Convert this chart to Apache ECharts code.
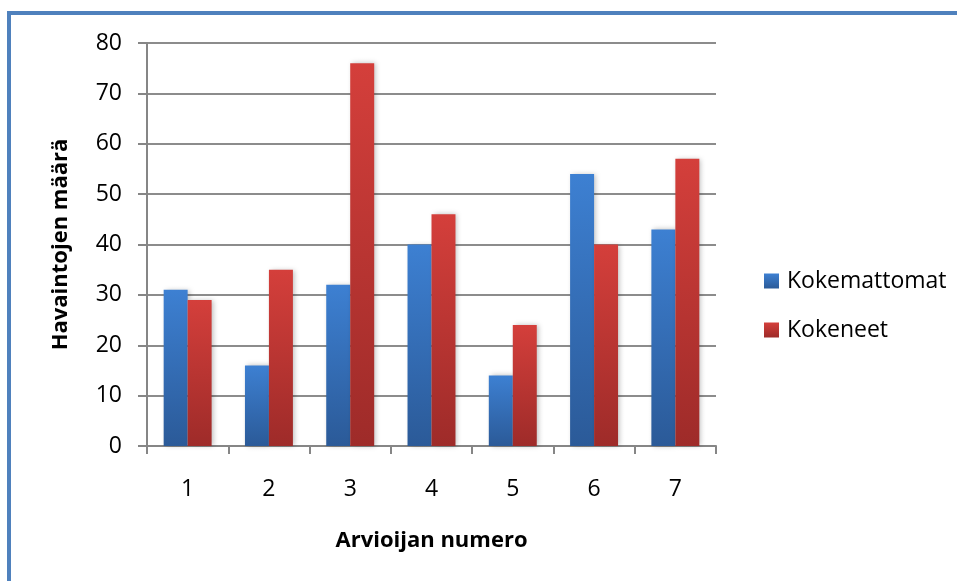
<!DOCTYPE html>
<html>
<head>
<meta charset="utf-8">
<script src="https://cdn.jsdelivr.net/npm/echarts@6/dist/echarts.min.js"></script>
<style>
  html, body { margin: 0; padding: 0; background: #fff; }
  #chart { width: 957px; height: 581px; }
</style>
</head>
<body>
<div id="chart"></div>
<script>
// Arvioijat 1–7 ja havaintojen määrä ryhmittäin
const categories = ['1', '2', '3', '4', '5', '6', '7'];
const kokemattomat = [31, 16, 32, 40, 14, 54, 43];
const kokeneet = [29, 35, 76, 46, 24, 40, 57];
const seriesNames = ['Kokemattomat', 'Kokeneet'];

const FONT = '"Open Sans", "Liberation Sans", sans-serif';
const grid = { left: 147, right: 241, top: 43, bottom: 135 };

function vgrad(top, bottom) {
  return new echarts.graphic.LinearGradient(0, 0, 0, 1, [
    { offset: 0, color: top },
    { offset: 1, color: bottom }
  ]);
}

const chart = echarts.init(document.getElementById('chart'), null, { renderer: 'canvas' });
chart.setOption({
  animation: false,
  backgroundColor: '#ffffff',
  graphic: [{
    type: 'rect',
    shape: { x: 9, y: 13, width: 1000, height: 700 },
    style: { fill: 'none', stroke: '#4F81BD', lineWidth: 4 },
    silent: true
  }],
  grid: grid,
  legend: {
    orient: 'vertical',
    left: 759,
    top: 264,
    itemWidth: 15,
    itemHeight: 15,
    itemGap: 25,
    icon: 'rect',
    textStyle: { fontFamily: FONT, fontSize: 23, lineHeight: 24, color: '#000', padding: [0, 0, 0, 3] },
    data: seriesNames
  },
  xAxis: {
    type: 'category',
    data: categories,
    name: 'Arvioijan numero',
    nameLocation: 'middle',
    nameGap: 84,
    nameTextStyle: { fontFamily: FONT, fontSize: 22, fontWeight: 'bold', color: '#000' },
    axisLine: { lineStyle: { color: '#868686', width: 2 } },
    axisTick: { show: true, length: 8, lineStyle: { color: '#868686', width: 2 } },
    axisLabel: { fontFamily: FONT, fontSize: 23, color: '#000', margin: 32 }
  },
  yAxis: {
    type: 'value',
    min: 0,
    max: 80,
    interval: 10,
    name: 'Havaintojen määrä',
    nameLocation: 'middle',
    nameGap: 75,
    nameRotate: 90,
    nameTextStyle: { fontFamily: FONT, fontSize: 22, fontWeight: 'bold', color: '#000' },
    axisLine: { show: true, lineStyle: { color: '#868686', width: 2 } },
    axisTick: { show: true, length: 9, lineStyle: { color: '#868686', width: 2 } },
    splitLine: { lineStyle: { color: '#8c8c8c', width: 2 } },
    axisLabel: { fontFamily: FONT, fontSize: 23, color: '#000', margin: 25 }
  },
  series: [
    {
      name: seriesNames[0],
      type: 'bar',
      data: kokemattomat,
      barGap: '0%',
      barCategoryGap: '41%',
      itemStyle: {
        color: vgrad('#3d80d2', '#2b5a98'),
        shadowColor: 'rgba(0,0,0,0.25)',
        shadowBlur: 5,
        shadowOffsetX: 2
      }
    },
    {
      name: seriesNames[1],
      type: 'bar',
      data: kokeneet,
      barGap: '0%',
      barCategoryGap: '41%',
      itemStyle: {
        color: vgrad('#d43f3b', '#9e2b29'),
        shadowColor: 'rgba(0,0,0,0.25)',
        shadowBlur: 5,
        shadowOffsetX: 2
      }
    }
  ]
});
</script>
</body>
</html>
